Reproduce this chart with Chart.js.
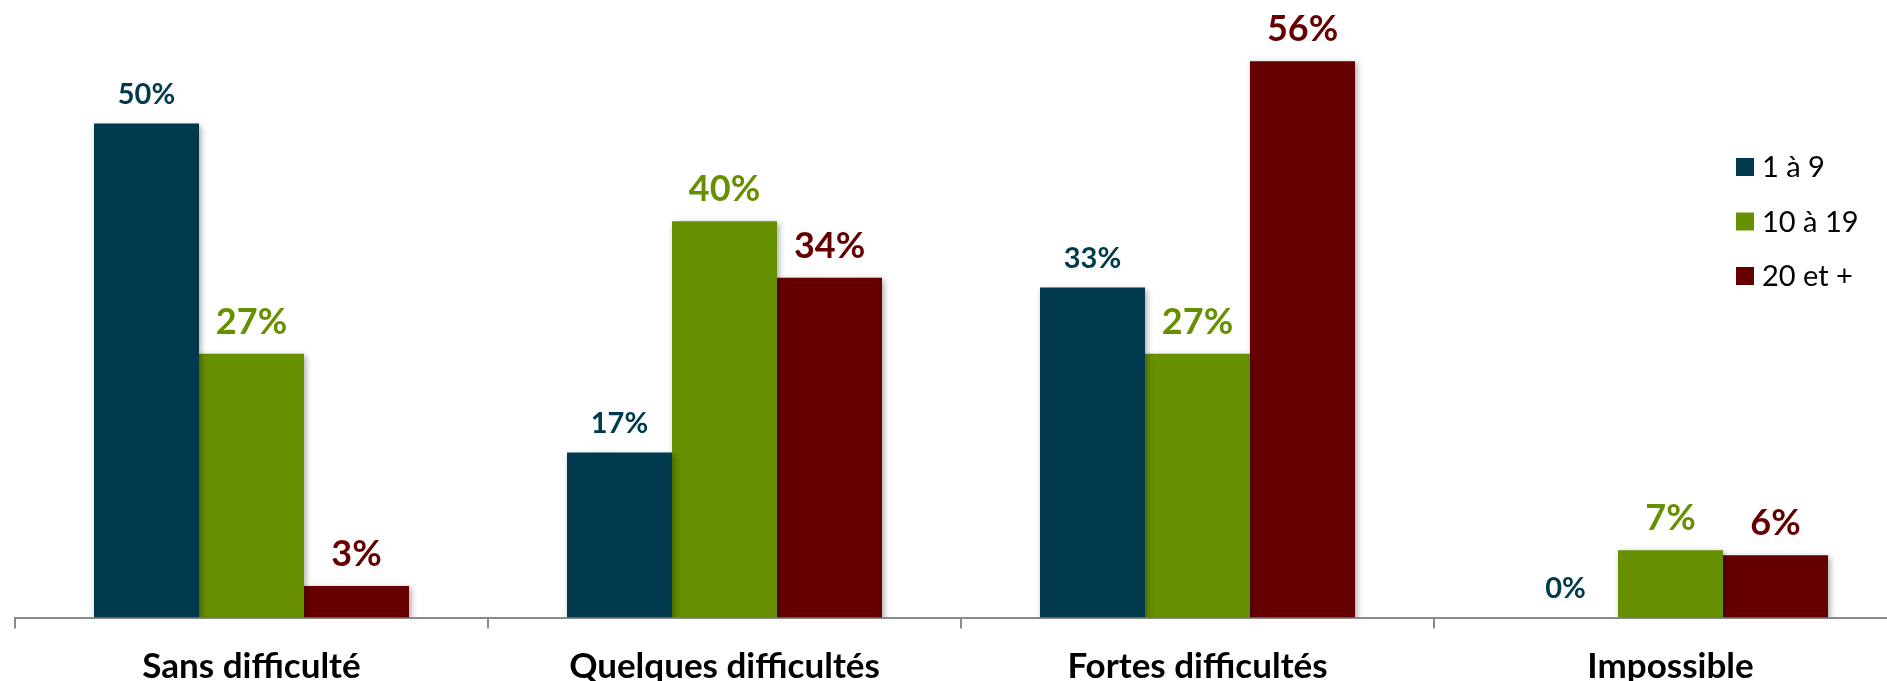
<!DOCTYPE html>
<html>
<head>
<meta charset="utf-8">
<script src="https://cdn.jsdelivr.net/npm/chart.js@4"></script>
<style>
    html, body { margin: 0; padding: 0; background: #fff; overflow: hidden; }
    #wrap { width: 1907px; height: 681px; }
</style>
</head>
<body>
<div id="wrap"><canvas id="chart" width="1907" height="681"></canvas></div>
<script>
const categories = ['Sans difficulté', 'Quelques difficultés', 'Fortes difficultés', 'Impossible'];
const seriesNames = ['1 à 9', '10 à 19', '20 et +'];
const small = [50, 16.7, 33.4, 0];
const medium = [26.7, 40.1, 26.7, 6.8];
const large = [3.2, 34.4, 56.3, 6.3];
const colors = ['#013a4e', '#669000', '#660000'];
const labelSizes = [29, 36, 36];

const FONT = 'Lato, "Open Sans", sans-serif';

const shadowPlugin = {
    id: 'shadow',
    beforeDatasetsDraw(chart) {
        const ctx = chart.ctx;
        ctx.save();
        ctx.shadowColor = 'rgba(0,0,0,0.35)';
        ctx.shadowBlur = 6;
        ctx.shadowOffsetX = 2;
        ctx.shadowOffsetY = 2;
    },
    afterDatasetsDraw(chart) {
        chart.ctx.restore();
    }
};

const valueLabels = {
    id: 'valueLabels',
    afterDatasetsDraw(chart) {
        const ctx = chart.ctx;
        ctx.save();
        chart.data.datasets.forEach(function (ds, i) {
            const meta = chart.getDatasetMeta(i);
            ctx.font = 'bold ' + labelSizes[i] + 'px ' + FONT;
            ctx.fillStyle = colors[i];
            ctx.textAlign = 'center';
            ctx.textBaseline = 'alphabetic';
            meta.data.forEach(function (bar, j) {
                ctx.fillText(Math.round(ds.data[j]) + '%', bar.x, bar.y - 20);
            });
        });
        ctx.restore();
    }
};

const sideLegend = {
    id: 'sideLegend',
    afterDraw(chart) {
        const ctx = chart.ctx;
        ctx.save();
        ctx.font = '29px ' + FONT;
        ctx.textBaseline = 'middle';
        ctx.textAlign = 'left';
        chart.data.datasets.forEach(function (ds, i) {
            const cy = 167 + i * 54.5;
            ctx.fillStyle = ds.backgroundColor;
            ctx.fillRect(1736, cy - 9, 18, 18);
            ctx.fillStyle = '#000';
            ctx.fillText(ds.label, 1762, cy + 1);
        });
        ctx.restore();
    }
};

new Chart(document.getElementById('chart'), {
    type: 'bar',
    data: {
        labels: categories,
        datasets: [
            { label: seriesNames[0], data: small, backgroundColor: colors[0] },
            { label: seriesNames[1], data: medium, backgroundColor: colors[1] },
            { label: seriesNames[2], data: large, backgroundColor: colors[2] }
        ]
    },
    options: {
        responsive: false,
        animation: false,
        devicePixelRatio: 1,
        layout: { padding: { left: 15, right: 0, top: 0, bottom: 0 } },
        datasets: {
            bar: { categoryPercentage: 0.666, barPercentage: 1.0 }
        },
        scales: {
            x: {
                grid: {
                    offset: true,
                    drawOnChartArea: false,
                    drawTicks: true,
                    tickLength: 11,
                    color: '#8a8a8a',
                    lineWidth: 2
                },
                border: { display: true, color: '#8a8a8a', width: 2 },
                ticks: {
                    color: '#000',
                    padding: 17,
                    font: { family: FONT, size: 35, weight: 'bold' }
                },
                afterFit(scale) { scale.height = 63.5; }
            },
            y: {
                display: false,
                min: 0,
                max: 62.5
            }
        },
        plugins: {
            legend: { display: false },
            tooltip: { enabled: false }
        }
    },
    plugins: [shadowPlugin, valueLabels, sideLegend]
});
</script>
</body>
</html>
